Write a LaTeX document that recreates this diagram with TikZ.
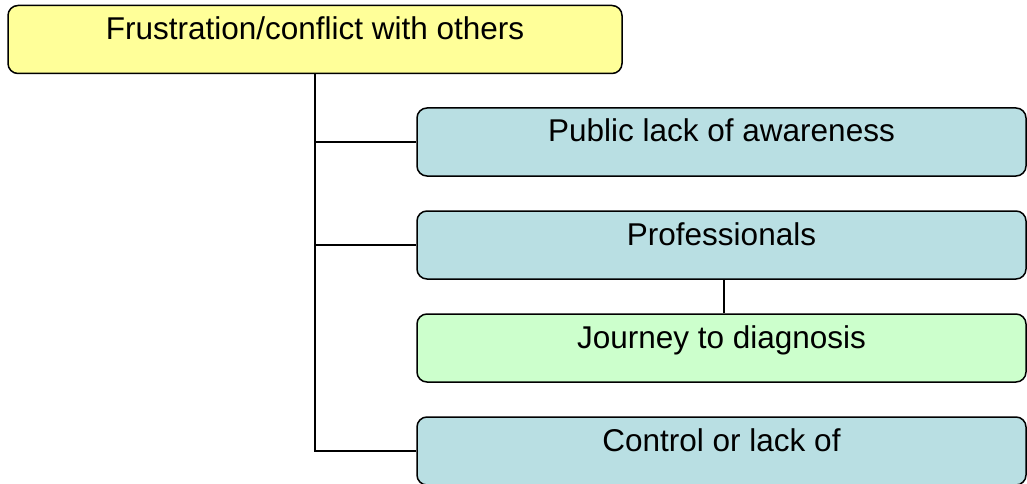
\documentclass[tikz,border=0pt]{standalone}
\usepackage{fontspec}
\setmainfont{Liberation Sans}
\usepackage{xcolor}
\definecolor{boxyellow}{HTML}{FFFF99}
\definecolor{boxblue}{HTML}{B9DFE3}
\definecolor{boxgreen}{HTML}{CCFFCC}
\tikzset{
	themebox/.style={draw=black,line width=1.5pt,rounded corners=10pt,inner sep=0pt,
		text height=34pt,text depth=34pt,font=\fontsize{31.5}{36}\selectfont},
	link/.style={line width=2pt}
}

\begin{document}
\begin{tikzpicture}[x=1pt,y=-1pt]
				\useasboundingbox (0,0) rectangle (1027,484);
				\clip (0,0) rectangle (1027,484);
				
				\coordinate (T) at (315,39.5);
				\coordinate (P1) at (721.5,142);
				\coordinate (P2) at (721.5,245);
				\coordinate (P3) at (721.5,348);
				\coordinate (P4) at (721.5,451);
				
				\node[themebox,fill=boxyellow,minimum width=614pt] (top) at (T) {Frustration/conflict with others};
				
				\node[themebox,fill=boxblue,minimum width=609pt] (pub) at (P1) {Public lack of awareness};
				\node[themebox,fill=boxblue,minimum width=609pt] (prof) at (P2) {Professionals};
				\node[themebox,fill=boxgreen,minimum width=609pt] (jour) at (P3) {Journey to diagnosis};
				\node[themebox,fill=boxblue,minimum width=609pt] (ctrl) at (P4) {Control or lack of};
				
				\draw[link] (top.south) -- (top.south |- ctrl.west) -- (ctrl.west);
				\draw[link] (top.south |- pub.west) -- (pub.west);
				\draw[link] (top.south |- prof.west) -- (prof.west);
				\draw[link] ([xshift=2.5pt]prof.south) -- ([xshift=2.5pt]jour.north);
			\end{tikzpicture}
\end{document}
